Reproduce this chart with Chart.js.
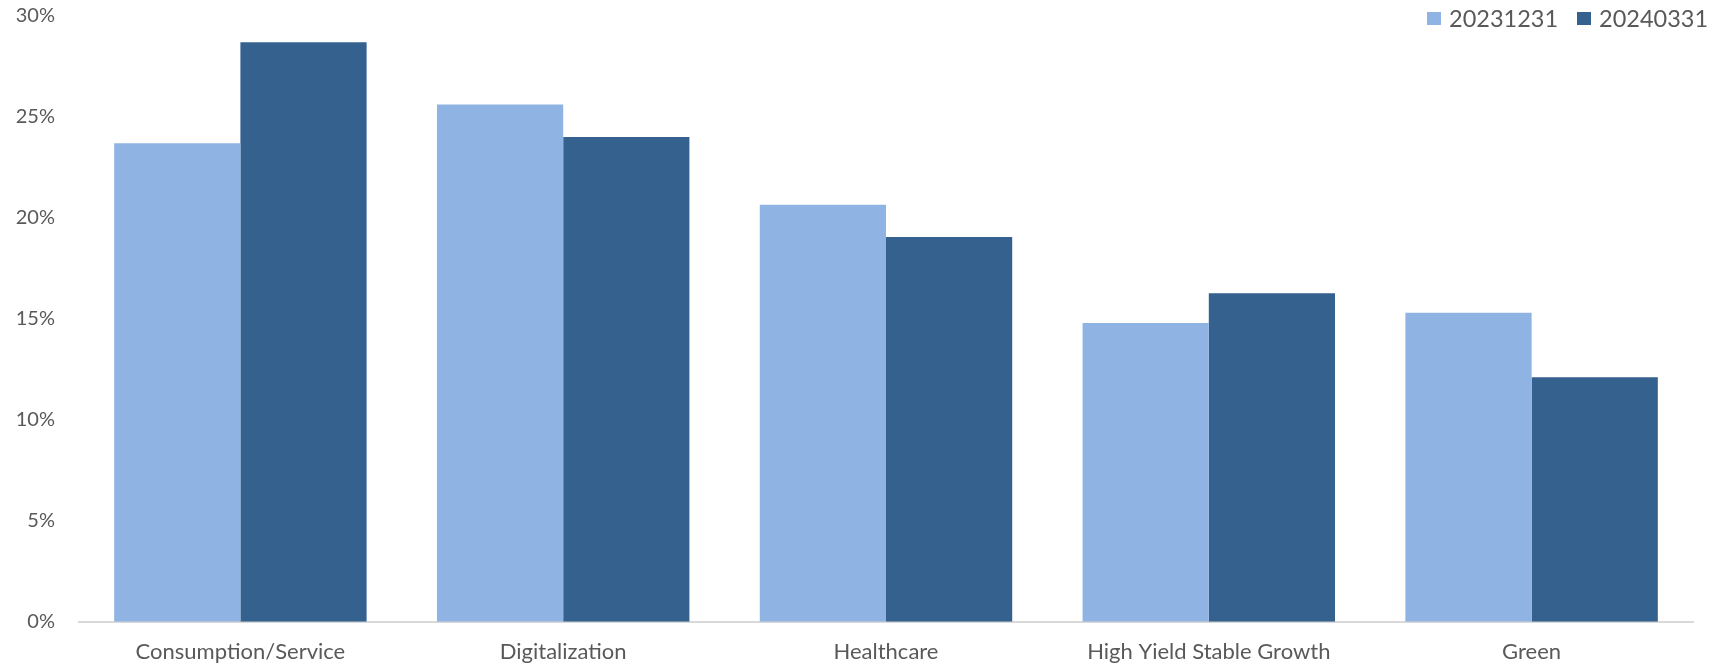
<!DOCTYPE html>
<html>
<head>
<meta charset="utf-8">
<script src="https://cdn.jsdelivr.net/npm/chart.js@4/dist/chart.umd.min.js"></script>
<style>
    html, body { margin: 0; padding: 0; background: #fff; }
    #wrap { position: relative; width: 1720px; height: 667px; }
    #legend {
        position: absolute; top: 4px; left: 1427px;
        display: flex; align-items: center;
        font-family: Lato, "Open Sans", sans-serif; font-size: 23.5px; color: #595959;
    }
    #legend .item { display: flex; align-items: center; margin-right: 19px; }
    #legend .box { width: 14px; height: 13px; margin-right: 8px; }
</style>
</head>
<body>
<div id="wrap">
    <canvas id="sectorChart" width="1720" height="667"></canvas>
    <div id="legend"></div>
</div>
<script>
    // Sector weights (%) at two reporting dates
    const categories = ['Consumption/Service', 'Digitalization', 'Healthcare', 'High Yield Stable Growth', 'Green'];
    const seriesNames = ['20231231', '20240331'];
    const weights20231231 = [23.68, 25.6, 20.64, 14.79, 15.30];
    const weights20240331 = [28.68, 24.0, 19.04, 16.26, 12.10];
    const yTicks = [0, 5, 10, 15, 20, 25, 30];

    const colors = ['#8FB3E2', '#35618F'];
    const fontFamily = 'Lato, "Open Sans", sans-serif';

    const datasets = [weights20231231, weights20240331].map((values, i) => ({
        label: seriesNames[i],
        data: values,
        backgroundColor: colors[i],
        borderWidth: 0,
        categoryPercentage: 0.782,
        barPercentage: 1.0
    }));

    // HTML legend, top right
    const legendEl = document.getElementById('legend');
    datasets.forEach(ds => {
        const item = document.createElement('div');
        item.className = 'item';
        const box = document.createElement('span');
        box.className = 'box';
        box.style.background = ds.backgroundColor;
        const text = document.createElement('span');
        text.textContent = ds.label;
        item.appendChild(box);
        item.appendChild(text);
        legendEl.appendChild(item);
    });

    const ctx = document.getElementById('sectorChart').getContext('2d');
    new Chart(ctx, {
        type: 'bar',
        data: {
            labels: categories,
            datasets: datasets
        },
        options: {
            responsive: false,
            animation: false,
            layout: {
                padding: { top: 15.7, right: 27, bottom: 0, left: 0 }
            },
            plugins: {
                legend: { display: false },
                tooltip: { enabled: false }
            },
            scales: {
                x: {
                    grid: { display: false },
                    border: { display: true, color: '#D9D9D9', width: 2 },
                    ticks: {
                        color: '#595959',
                        font: { family: fontFamily, size: 22 },
                        padding: 9,
                        maxRotation: 0
                    },
                    afterFit(scale) { scale.height = 45.3; }
                },
                y: {
                    min: 0,
                    max: 30,
                    grid: { display: false, drawTicks: false },
                    border: { display: false },
                    afterBuildTicks(scale) {
                        scale.ticks = yTicks.map(v => ({ value: v }));
                    },
                    ticks: {
                        color: '#595959',
                        font: { family: fontFamily, size: 20 },
                        padding: 24,
                        callback: value => value + '%'
                    },
                    afterFit(scale) {
                        // fixed axis width; top label may sit on the canvas edge
                        scale.width = 79;
                        scale.paddingTop = 0;
                        scale.paddingBottom = 0;
                    }
                }
            }
        }
    });
</script>
</body>
</html>
